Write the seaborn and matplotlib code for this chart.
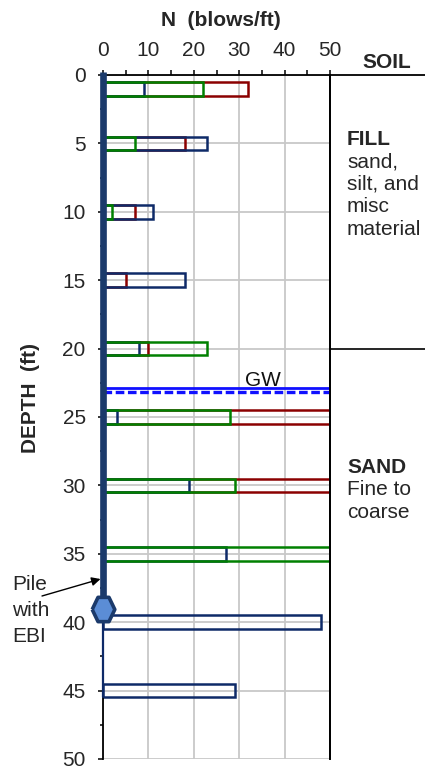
import matplotlib
matplotlib.use("Agg")
import matplotlib.pyplot as plt
import seaborn as sns
import numpy as np
from matplotlib.ticker import MultipleLocator

# ---------------- data ----------------
depth_red = [1, 5, 10, 15, 20, 25, 30]
n_red = [32, 18, 7, 5, 10, 50, 50]

depth_blue = [1, 5, 10, 15, 20, 25, 30, 35, 40, 45]
n_blue = [9, 23, 11, 18, 8, 3, 19, 27, 48, 29]

depth_green = [1, 5, 10, 20, 25, 30, 35]
n_green = [22, 7, 2, 23, 28, 29, 52]

x_ticks = [0, 10, 20, 30, 40, 50]
y_ticks = [0, 5, 10, 15, 20, 25, 30, 35, 40, 45, 50]

pile_top, pile_tip = 0, 39
gw_depth = 23.0
soil_boundary = 20

fill_lines = ["FILL", "sand,", "silt, and", "misc", "material"]
sand_lines = ["SAND", "Fine to", "coarse"]
pile_lines = ["Pile", "with", "EBI"]

# ---------------- style ----------------
sns.set_theme(style="white")
plt.rcParams["font.family"] = ["Liberation Sans", "DejaVu Sans"]
plt.rcParams["lines.scale_dashes"] = False

RED = "#8B0000"
BLUE = "#0E2A68"
GREEN = "#008000"
PILE = "#1B3A6B"
GRID = "#C8C8C8"
FS = 15

W, H = 425, 767
fig = plt.figure(figsize=(W / 100, H / 100), dpi=100)
fig.patch.set_facecolor("white")

def fx(px):
    return px / W

def fy(py):
    return 1 - py / H

top_px, bot_px = 75, 759
ax = fig.add_axes([fx(103), fy(bot_px), fx(330) - fx(103), (bot_px - top_px) / H])
ax_s = fig.add_axes([fx(330), fy(bot_px), fx(W) - fx(330), (bot_px - top_px) / H])

# grid
ax.set_axisbelow(True)
ax.grid(True, color=GRID, lw=1.3)

# bars: red bottom, blue middle, green top
for d, n, c in [(depth_red, n_red, RED), (depth_blue, n_blue, BLUE), (depth_green, n_green, GREEN)]:
    sns.barplot(x=n, y=d, orient="h", native_scale=True, width=0.25, fill=False,
                color=c, linewidth=1.8, errorbar=None, ax=ax)

# ground water line
ax.plot([0, 50], [gw_depth - 0.12, gw_depth - 0.12], color="#1010FF", lw=2.0, zorder=4)
ax.plot([0, 50], [gw_depth + 0.2, gw_depth + 0.2], color="#1010FF", lw=2.4,
        dashes=(6.2, 2.6), zorder=4)
fig.text(fx(263), fy(385.5), "GW", fontsize=FS, ha="center", va="baseline", color="#111111")

# pile
ax.plot([0, 0], [pile_tip, 45.5], color=BLUE, lw=1.6, zorder=5, clip_on=False)
ax.plot([0, 0], [pile_top - 0.2, pile_tip], color=PILE, lw=4.8, solid_capstyle="butt",
        zorder=6, clip_on=False)
hexv = [(-0.93, 0), (-0.45, 1), (0.45, 1), (0.93, 0), (0.45, -1), (-0.45, -1), (-0.93, 0)]
ax.plot([0], [pile_tip], marker=hexv, ms=17.5, mfc="#5B8DD6", mec=PILE, mew=2.6,
        zorder=7, clip_on=False, ls="none")

# axes formatting
ax.set_xlim(0, 50)
ax.set_ylim(50, 0)
ax_s.set_ylim(50, 0)
ax_s.set_xlim(0, 1)
ax.xaxis.tick_top()
ax.set_xticks(x_ticks)
ax.set_yticks(y_ticks)
ax.xaxis.set_minor_locator(MultipleLocator(5))
ax.yaxis.set_minor_locator(MultipleLocator(2.5))
ax.tick_params(axis="x", which="both", direction="out", length=3.5, width=1.1,
               color="black", labelsize=FS, pad=7, top=True, bottom=False,
               labeltop=True, labelbottom=False)
ax.tick_params(axis="y", which="major", direction="out", length=3.5, width=1.1,
               color="black", labelsize=FS, pad=9, left=True)
ax.tick_params(axis="y", which="minor", direction="out", length=2.5, width=1.1,
               color="black", left=True)
ax.set_xlabel("")
ax.set_ylabel("")
for sp in ["top", "left", "right"]:
    ax.spines[sp].set_visible(True)
    ax.spines[sp].set_color("black")
    ax.spines[sp].set_linewidth(1.3)
ax.spines["bottom"].set_visible(False)
ax.patch.set_alpha(0)

# soil column
ax_s.set_xticks([])
ax_s.set_yticks([])
for sp in ["right", "bottom"]:
    ax_s.spines[sp].set_visible(False)
for sp in ["top", "left"]:
    ax_s.spines[sp].set_visible(True)
    ax_s.spines[sp].set_color("black")
    ax_s.spines[sp].set_linewidth(1.3)
ax_s.axhline(soil_boundary, color="black", lw=1.2)
ax_s.patch.set_alpha(0)

# titles / labels
fig.text(fx(221), fy(20), "N  (blows/ft)", fontsize=FS, fontweight="bold",
         ha="center", va="center")
fig.text(fx(387), fy(62), "SOIL", fontsize=FS, fontweight="bold", ha="center", va="center")
fig.text(fx(30), fy(398), "DEPTH  (ft)", fontsize=FS, fontweight="bold",
         ha="center", va="center", rotation=90)

for i, t in enumerate(fill_lines):
    fig.text(fx(347), fy(145 + 22.5 * i), t, fontsize=FS,
             fontweight="bold" if i == 0 else "normal", ha="left", va="baseline")
for i, t in enumerate(sand_lines):
    fig.text(fx(347), fy(473 + 22.5 * i), t, fontsize=FS,
             fontweight="bold" if i == 0 else "normal", ha="left", va="baseline")
for i, t in enumerate(pile_lines):
    fig.text(fx(12), fy(590 + 26 * i), t, fontsize=FS, ha="left", va="baseline")

# arrow to pile
ax.annotate("", xy=(fx(100.5), fy(579)), xycoords="figure fraction",
            xytext=(fx(42), fy(596)), textcoords="figure fraction",
            arrowprops=dict(arrowstyle="-|>", color="black", lw=1.0, mutation_scale=13,
                            shrinkA=0, shrinkB=0),
            annotation_clip=False)

fig.savefig("out.png", dpi=100, facecolor="white")
